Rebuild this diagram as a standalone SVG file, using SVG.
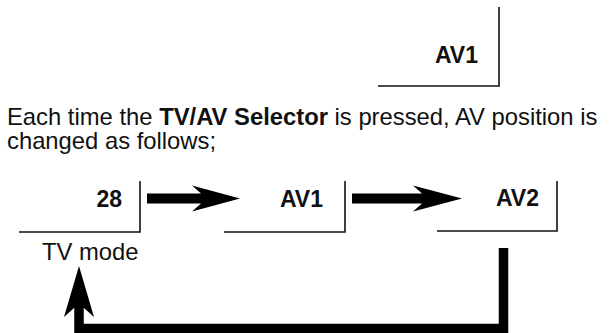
<svg xmlns="http://www.w3.org/2000/svg" width="609" height="333" viewBox="0 0 609 333">
<style>
  .box { fill: none; stroke: #111; stroke-width: 1.6; }
  .lbl { font-family: "Liberation Sans", Arial, sans-serif; font-size: 23px; font-weight: bold; fill: #111; text-anchor: end; }
  .txt { font-family: "Liberation Sans", Arial, sans-serif; font-size: 23.8px; fill: #111; }
  .bar { fill: none; stroke: #000; stroke-width: 9.5; stroke-linejoin: miter; stroke-linecap: butt; }
  .head { fill: #000; }
</style>
<rect width="609" height="333" fill="#fff"/>

<g id="node-av1-top">
  <path class="box" d="M378,86 H499 V7"/>
  <text class="lbl" x="478" y="63">AV1</text>
</g>

<g id="description">
  <text class="txt" x="7" y="125">Each time the <tspan font-weight="bold">TV/AV Selector</tspan> is pressed, AV position is<tspan x="7" y="149">changed as follows;</tspan></text>
</g>

<g id="node-28">
  <path class="box" d="M19,232 H140 V181"/>
  <text class="lbl" x="122" y="207">28</text>
  <text class="txt" x="42" y="260" font-size="23.4">TV mode</text>
</g>

<g id="node-av1">
  <path class="box" d="M224,232 H345 V181"/>
  <text class="lbl" x="323" y="207">AV1</text>
</g>

<g id="node-av2">
  <path class="box" d="M437,231 H557 V181"/>
  <text class="lbl" x="539" y="206">AV2</text>
</g>

<g id="connectors">
  <polygon class="head" points="147,193.5 201,193.5 192,185.5 240,198.5 192,211.5 201,203.5 147,203.5"/>
  <polygon class="head" points="352,193.5 422,193.5 413,185.5 462,198.5 413,211.5 422,203.5 352,203.5"/>
  <polyline class="bar" points="503.5,248 503.5,328.5 79,328.5 79,306"/>
  <polygon class="head" points="79,266 94,317 84,308 74,308 64,317"/>
</g>
</svg>
